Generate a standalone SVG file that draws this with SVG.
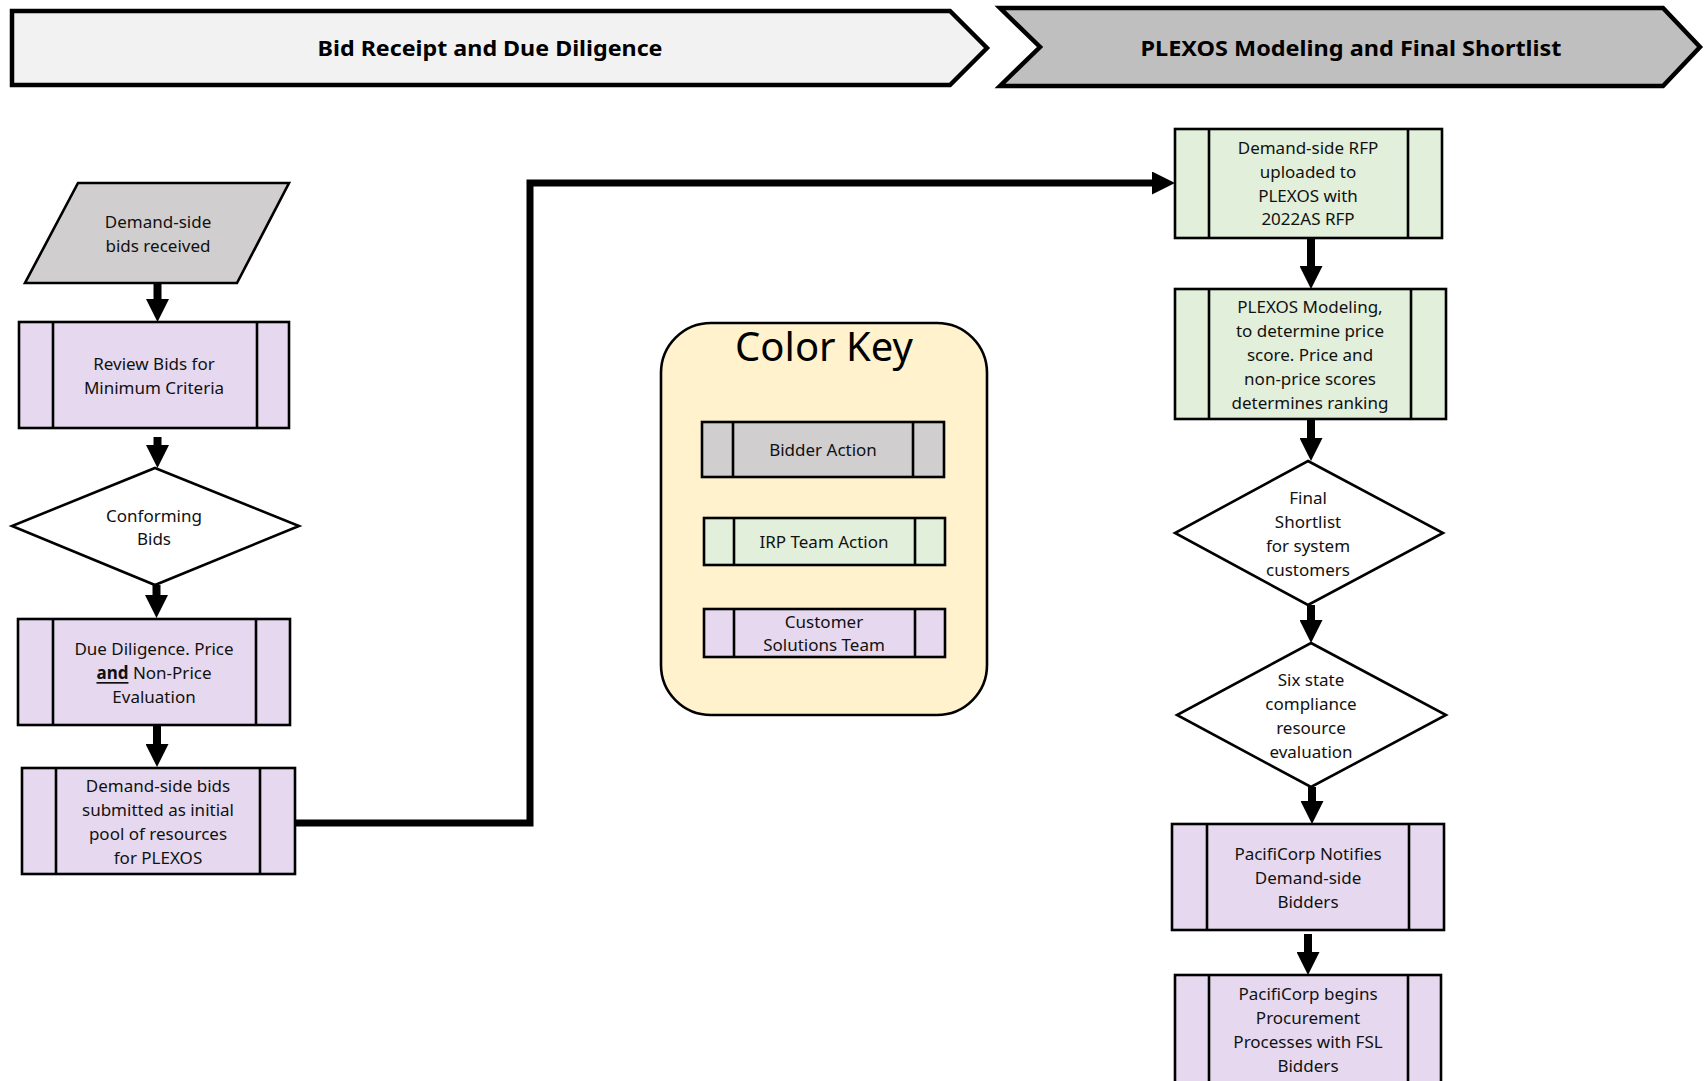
<svg xmlns="http://www.w3.org/2000/svg" width="1707" height="1081" viewBox="0 0 1707 1081">
<style>
  text { font-family: "Noto Sans", "Open Sans", "DejaVu Sans", sans-serif; font-size: 17px; fill: #111; text-anchor: middle; dominant-baseline: central; }
  .hdr { font-weight: bold; font-size: 22px; fill: #000; }
  .key { font-size: 40px; fill: #000; }
  .chev { stroke: #000; stroke-width: 4.5; stroke-linejoin: miter; }
  .box { stroke: #000; stroke-width: 2.6; }
  .div { stroke: #000; stroke-width: 2.6; fill: none; }
  .bidder { fill: #d0cece; }
  .irp { fill: #e2efda; }
  .cust { fill: #e6d9ef; }
  .dec { fill: #ffffff; stroke: #000; stroke-width: 2.6; }
  .conn { stroke: #000; stroke-width: 8; fill: none; }
  .long { stroke: #000; stroke-width: 7; fill: none; stroke-linejoin: miter; }
</style>
<defs>
  <marker id="ah" viewBox="0 0 23 23" refX="1" refY="11.5" markerWidth="23" markerHeight="23" markerUnits="userSpaceOnUse" orient="auto">
    <path d="M0,0 L23,11.5 L0,23 z" fill="#000"/>
  </marker>
</defs>
<rect x="0" y="0" width="1707" height="1081" fill="#ffffff"/>

<g id="header-bid">
  <polygon class="chev" points="12,11 950,11 987,48 950,85 12,85" fill="#f2f2f2"/>
  <text class="hdr" x="490" y="47" textLength="345" lengthAdjust="spacingAndGlyphs">Bid Receipt and Due Diligence</text>
</g>
<g id="header-plexos">
  <polygon class="chev" points="1000,8 1663,8 1700,47 1663,86 1000,86 1040,47" fill="#bfbfbf"/>
  <text class="hdr" x="1351" y="47" textLength="421" lengthAdjust="spacingAndGlyphs">PLEXOS Modeling and Final Shortlist</text>
</g>

<g id="connectors">
  <line class="conn" x1="157.5" y1="283" x2="157.5" y2="300" marker-end="url(#ah)"/>
  <line class="conn" x1="157.5" y1="437" x2="157.5" y2="446" marker-end="url(#ah)"/>
  <line class="conn" x1="156.5" y1="585" x2="156.5" y2="596" marker-end="url(#ah)"/>
  <line class="conn" x1="157" y1="725" x2="157" y2="745" marker-end="url(#ah)"/>
  <polyline class="long" points="295,823 530,823 530,183 1153,183" marker-end="url(#ah)"/>
  <line class="conn" x1="1311" y1="238" x2="1311" y2="267" marker-end="url(#ah)"/>
  <line class="conn" x1="1311" y1="419" x2="1311" y2="439" marker-end="url(#ah)"/>
  <line class="conn" x1="1311" y1="605" x2="1311" y2="621" marker-end="url(#ah)"/>
  <line class="conn" x1="1312" y1="787" x2="1312" y2="802" marker-end="url(#ah)"/>
  <line class="conn" x1="1308" y1="934" x2="1308" y2="953" marker-end="url(#ah)"/>
</g>

<g id="bids-received">
  <polygon class="box bidder" points="78,183 289,183 237,283 25,283"/>
  <text x="158" y="221">Demand-side</text>
  <text x="158" y="245">bids received</text>
</g>

<g id="review-bids">
  <rect class="box cust" x="19" y="322" width="270" height="106"/>
  <line class="div" x1="53" y1="322" x2="53" y2="428"/>
  <line class="div" x1="257" y1="322" x2="257" y2="428"/>
  <text x="154" y="363">Review Bids for</text>
  <text x="154" y="387">Minimum Criteria</text>
</g>

<g id="conforming-bids">
  <polygon class="dec" points="155,468 299,526 155,585 12,526"/>
  <text x="154" y="515">Conforming</text>
  <text x="154" y="538">Bids</text>
</g>

<g id="due-diligence">
  <rect class="box cust" x="18" y="619" width="272" height="106"/>
  <line class="div" x1="53" y1="619" x2="53" y2="725"/>
  <line class="div" x1="256" y1="619" x2="256" y2="725"/>
  <text x="154" y="648">Due Diligence. Price</text>
  <text x="154" y="672"><tspan font-weight="bold" text-decoration="underline">and</tspan> Non-Price</text>
  <text x="154" y="696">Evaluation</text>
</g>

<g id="initial-pool">
  <rect class="box cust" x="22" y="768" width="273" height="106"/>
  <line class="div" x1="56" y1="768" x2="56" y2="874"/>
  <line class="div" x1="260" y1="768" x2="260" y2="874"/>
  <text x="158" y="785">Demand-side bids</text>
  <text x="158" y="809">submitted as initial</text>
  <text x="158" y="833">pool of resources</text>
  <text x="158" y="857">for PLEXOS</text>
</g>

<g id="color-key">
  <rect x="661" y="323" width="326" height="392" rx="50" ry="50" fill="#fff2cc" stroke="#000" stroke-width="2.6"/>
  <text class="key" x="824" y="345">Color Key</text>
  <g id="key-bidder">
    <rect class="box bidder" x="702" y="422" width="242" height="55"/>
    <line class="div" x1="733" y1="422" x2="733" y2="477"/>
    <line class="div" x1="913" y1="422" x2="913" y2="477"/>
    <text x="823" y="449">Bidder Action</text>
  </g>
  <g id="key-irp">
    <rect class="box irp" x="704" y="518" width="241" height="47"/>
    <line class="div" x1="734" y1="518" x2="734" y2="565"/>
    <line class="div" x1="915" y1="518" x2="915" y2="565"/>
    <text x="824" y="541">IRP Team Action</text>
  </g>
  <g id="key-customer">
    <rect class="box cust" x="704" y="609" width="241" height="48"/>
    <line class="div" x1="734" y1="609" x2="734" y2="657"/>
    <line class="div" x1="915" y1="609" x2="915" y2="657"/>
    <text x="824" y="621">Customer</text>
    <text x="824" y="644">Solutions Team</text>
  </g>
</g>

<g id="rfp-uploaded">
  <rect class="box irp" x="1175" y="129" width="267" height="109"/>
  <line class="div" x1="1209" y1="129" x2="1209" y2="238"/>
  <line class="div" x1="1408" y1="129" x2="1408" y2="238"/>
  <text x="1308" y="147">Demand-side RFP</text>
  <text x="1308" y="171">uploaded to</text>
  <text x="1308" y="195">PLEXOS with</text>
  <text x="1308" y="218">2022AS RFP</text>
</g>

<g id="plexos-modeling">
  <rect class="box irp" x="1175" y="289" width="271" height="130"/>
  <line class="div" x1="1209" y1="289" x2="1209" y2="419"/>
  <line class="div" x1="1411" y1="289" x2="1411" y2="419"/>
  <text x="1310" y="306">PLEXOS Modeling,</text>
  <text x="1310" y="330">to determine price</text>
  <text x="1310" y="354">score. Price and</text>
  <text x="1310" y="378">non-price scores</text>
  <text x="1310" y="402">determines ranking</text>
</g>

<g id="final-shortlist">
  <polygon class="dec" points="1308,461 1443,533 1308,605 1175,533"/>
  <text x="1308" y="497">Final</text>
  <text x="1308" y="521">Shortlist</text>
  <text x="1308" y="545">for system</text>
  <text x="1308" y="569">customers</text>
</g>

<g id="six-state">
  <polygon class="dec" points="1311,643 1446,715 1311,787 1177,715"/>
  <text x="1311" y="679">Six state</text>
  <text x="1311" y="703">compliance</text>
  <text x="1311" y="727">resource</text>
  <text x="1311" y="751">evaluation</text>
</g>

<g id="notifies-bidders">
  <rect class="box cust" x="1172" y="824" width="272" height="106"/>
  <line class="div" x1="1207" y1="824" x2="1207" y2="930"/>
  <line class="div" x1="1409" y1="824" x2="1409" y2="930"/>
  <text x="1308" y="853">PacifiCorp Notifies</text>
  <text x="1308" y="877">Demand-side</text>
  <text x="1308" y="901">Bidders</text>
</g>

<g id="procurement">
  <rect class="box cust" x="1175" y="975" width="266" height="120"/>
  <line class="div" x1="1209" y1="975" x2="1209" y2="1095"/>
  <line class="div" x1="1408" y1="975" x2="1408" y2="1095"/>
  <text x="1308" y="993">PacifiCorp begins</text>
  <text x="1308" y="1017">Procurement</text>
  <text x="1308" y="1041">Processes with FSL</text>
  <text x="1308" y="1065">Bidders</text>
</g>
</svg>
